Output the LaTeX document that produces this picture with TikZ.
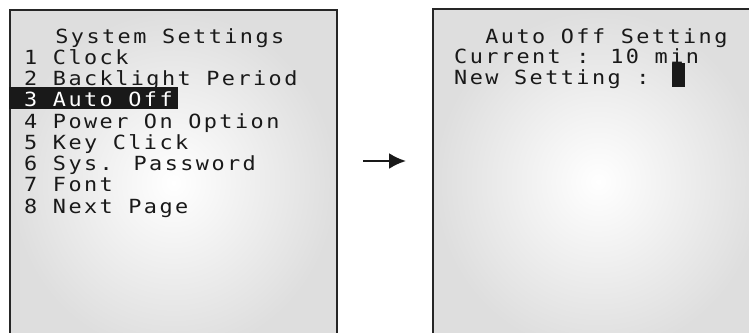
\documentclass[tikz,border=0pt]{standalone}
\usepackage{fontspec}
\usetikzlibrary{arrows.meta}
\newfontfamily\lcdfont[FakeStretch=1.12,LetterSpace=12.5]{DejaVu Sans Mono}
\begin{document}
\begin{tikzpicture}[x=1pt,y=-1pt,
  screen/.style={draw=black!85, line width=2.4pt, inner color=white, outer color=black!13, anchor=north west, inner sep=0pt},
  lcd/.style={anchor=base west, inner sep=0pt, font=\lcdfont\fontsize{19.5}{21}\selectfont, text=black!90},
  hlbar/.style={fill=black!90, anchor=north west, inner sep=0pt},
  flow/.style={line width=2.4pt, draw=black!90, -{Latex[length=17pt,width=16pt]}}]
\useasboundingbox (0,0) rectangle (749,332);
\clip (0,0) rectangle (749,332);
% screens
\node[screen, minimum width=327.5pt, minimum height=345pt] (left) at (8.5,9) {};
\node[screen, minimum width=330pt, minimum height=345pt] (right) at (432,8) {};
% highlight bar
\node[hlbar, minimum width=169pt, minimum height=22pt] (hl) at (9,87) {};
% left menu
\node[lcd] (t0) at (24,43) {\ \ System Settings};
\node[lcd] (t1) at (24,64.25) {1 Clock};
\node[lcd] (t2) at (24,85.5) {2 Backlight Period};
\node[lcd, text=white] (t3) at (24,106.75) {3 Auto Off};
\node[lcd] (t4) at (24,128) {4 Power On Option};
\node[lcd] (t5) at (24,149.25) {5 Key Click};
\node[lcd] (t6) at (24,170.5) {6 Sys. Password};
\node[lcd] (t7) at (24,191.75) {7 Font};
\node[lcd] (t8) at (24,213) {8 Next Page};
% right screen
\node[lcd] (r0) at (454,43) {\ \ Auto Off Setting};
\node[lcd] (r1) at (454,63.5) {Current : 10 min};
\node[lcd] (r2) at (454,84) {New Setting :};
\node[hlbar, minimum width=13pt, minimum height=24pt] (cur) at (672,63) {};
% arrow
\coordinate (a1) at (363,161);
\coordinate (a2) at (406,161);
\draw[flow] (a1) -- (a2);
\end{tikzpicture}
\end{document}
